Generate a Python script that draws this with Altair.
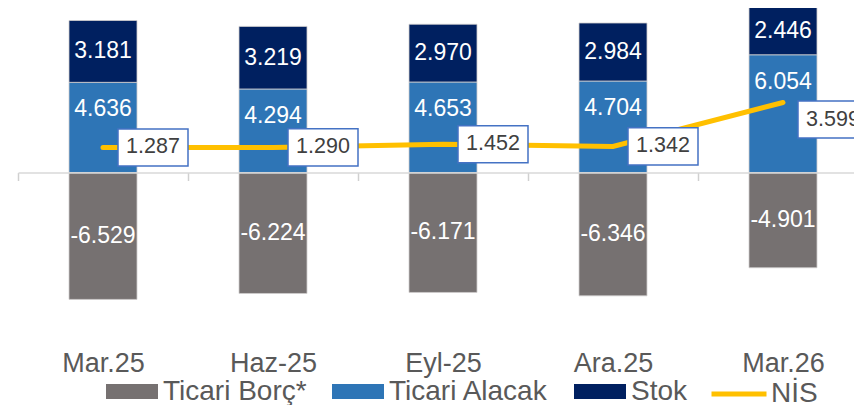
import altair as alt
import pandas as pd

categories = ["Mar.25", "Haz-25", "Eyl-25", "Ara.25", "Mar.26"]
ticari_borc = [-6.529, -6.224, -6.171, -6.346, -4.901]
ticari_alacak = [4.636, 4.294, 4.653, 4.704, 6.054]
stok = [3.181, 3.219, 2.970, 2.984, 2.446]
nis = [1.287, 1.290, 1.452, 1.342, 3.599]
series_names = ["Ticari Borç*", "Ticari Alacak", "Stok"]
series_colors = ["#767171", "#2E75B6", "#002060"]
line_name = "NİS"


def fmt(v):
    return f"{v:.3f}"


rows = []
for i, c in enumerate(categories):
    rows.append({"cat": c, "series": series_names[0], "value": ticari_borc[i], "ord": 0,
                 "label": fmt(ticari_borc[i]), "label_y": ticari_borc[i] / 2})
    rows.append({"cat": c, "series": series_names[1], "value": ticari_alacak[i], "ord": 1,
                 "label": fmt(ticari_alacak[i]), "label_y": ticari_alacak[i]})
    rows.append({"cat": c, "series": series_names[2], "value": stok[i], "ord": 2,
                 "label": fmt(stok[i]), "label_y": ticari_alacak[i] + stok[i] / 2})
bars_df = pd.DataFrame(rows)
line_df = pd.DataFrame({"cat": categories, "nis": nis,
                        "label": [fmt(v) for v in nis], "s": [line_name] * len(categories)})

FONT = "Liberation Sans"

x_enc = alt.X(
    "cat:N",
    sort=categories,
    scale=alt.Scale(range=[0, 850], paddingInner=0.6, paddingOuter=0.3),
    axis=alt.Axis(
        title=None, orient="bottom", offset=-155.5, labelAngle=0,
        labelFontSize=27, labelColor="#595959", labelFont=FONT,
        labelPadding=183, labelBaseline="middle",
        domain=True, domainColor="#D9D9D9", domainWidth=1.5,
        ticks=True, tickColor="#D0D0D0", tickWidth=1.5, tickSize=8,
        tickOffset=-85, labelOffset=85, grid=False, zindex=1,
    ),
)
y_scale = alt.Scale(domain=[-8.0, 8.46], nice=False, zero=False)

base_bars = alt.Chart(bars_df)

bars = base_bars.mark_bar(stroke="#D0CECE", strokeWidth=0.8).encode(
    x=x_enc,
    y=alt.Y("value:Q", stack="zero", scale=y_scale, axis=None),
    color=alt.Color(
        "series:N",
        scale=alt.Scale(domain=series_names, range=series_colors),
        legend=alt.Legend(
            title=None, orient="none", legendX=88, legendY=357.5,
            direction="horizontal",
            symbolType="M-1,-0.288L1,-0.288L1,0.288L-1,0.288Z",
            symbolSize=2704, symbolStrokeWidth=0, symbolOpacity=1,
            labelFontSize=28, labelColor="#595959", labelFont=FONT,
            labelOffset=5, columnPadding=25, padding=0, labelLimit=400,
        ),
    ),
    order=alt.Order("ord:Q"),
)

bar_labels_center = base_bars.mark_text(
    color="white", fontSize=23, font=FONT, baseline="middle"
).encode(
    x=x_enc,
    y=alt.Y("label_y:Q", scale=y_scale, axis=None),
    text="label:N",
).transform_filter(alt.datum.series != series_names[1])

bar_labels_alacak = base_bars.mark_text(
    color="white", fontSize=23, font=FONT, baseline="middle", dy=27
).encode(
    x=x_enc,
    y=alt.Y("label_y:Q", scale=y_scale, axis=None),
    text="label:N",
).transform_filter(alt.datum.series == series_names[1])

base_line = alt.Chart(line_df)

line = base_line.mark_line(strokeWidth=5, strokeCap="round").encode(
    x=x_enc,
    y=alt.Y("nis:Q", scale=y_scale, axis=None),
    stroke=alt.Stroke(
        "s:N",
        scale=alt.Scale(domain=[line_name], range=["#FFC000"]),
        legend=alt.Legend(
            title=None, orient="none", legendX=691, legendY=356,
            symbolType="stroke", symbolSize=3025, symbolStrokeWidth=5,
            labelFontSize=28, labelColor="#595959", labelFont=FONT,
            labelOffset=2, padding=0, labelLimit=400,
        ),
    ),
)

BOX = "M-1,-0.53L1,-0.53L1,0.53L-1,0.53Z"


def box_layers(flt, yoff):
    boxes = base_line.mark_point(
        shape=BOX, size=4900, filled=True, fill="white", stroke="#4472C4",
        strokeWidth=1.5, opacity=1, xOffset=50, yOffset=yoff,
    ).encode(
        x=x_enc,
        y=alt.Y("nis:Q", scale=y_scale, axis=None),
    ).transform_filter(flt)
    texts = base_line.mark_text(
        color="#404040", fontSize=21.5, font=FONT, baseline="middle", dx=50, dy=yoff,
    ).encode(
        x=x_enc,
        y=alt.Y("nis:Q", scale=y_scale, axis=None),
        text="label:N",
    ).transform_filter(flt)
    return boxes, texts


b1, t1 = box_layers(alt.datum.cat != categories[-1], 0)
b2, t2 = box_layers(alt.datum.cat == categories[-1], 17)

chart = alt.layer(
    bars, bar_labels_center, bar_labels_alacak, line, b1, t1, b2, t2
).properties(
    width=836, height=320,
    autosize=alt.AutoSizeParams(type="none"),
    padding={"left": 10, "top": 0, "right": 0, "bottom": 77},
).configure(font=FONT).configure_view(strokeWidth=0)

chart.save("out.html", embed_options={"renderer": "svg", "actions": False})
